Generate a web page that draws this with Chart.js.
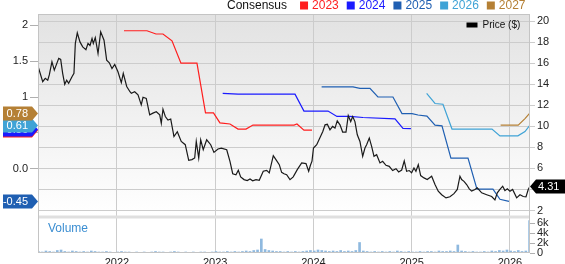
<!DOCTYPE html>
<html>
<head>
<meta charset="utf-8">
<script src="https://cdn.jsdelivr.net/npm/chart.js@4.4.1/dist/chart.umd.min.js"></script>
<style>
  html, body { margin: 0; padding: 0; background: #fff; }
</style>
</head>
<body>
<canvas id="chart" width="565" height="264"></canvas>
<script>
// Price history: [decimal year, price $]
const pricePoints = [
    [2021.196,15.74],[2021.244,14.25],[2021.270,14.57],[2021.295,14.40],[2021.311,14.90],[2021.338,16.15],
    [2021.362,15.35],[2021.407,16.47],[2021.427,16.37],[2021.447,15.05],[2021.468,14.00],[2021.488,14.40],
    [2021.508,14.10],[2021.542,14.73],[2021.562,15.05],[2021.576,17.90],[2021.596,18.90],[2021.623,18.04],
    [2021.651,17.57],[2021.684,17.30],[2021.705,17.90],[2021.725,17.70],[2021.746,18.36],[2021.759,17.90],
    [2021.779,18.45],[2021.807,16.94],[2021.834,19.00],[2021.868,18.20],[2021.895,16.30],[2021.922,16.05],
    [2021.949,15.50],[2021.977,15.90],[2022.010,15.20],[2022.044,14.16],[2022.064,15.05],[2022.099,13.80],
    [2022.132,13.30],[2022.146,13.15],[2022.180,13.30],[2022.214,13.00],[2022.247,12.05],[2022.265,12.77],
    [2022.298,12.67],[2022.333,11.10],[2022.366,11.26],[2022.400,11.40],[2022.435,11.10],[2022.451,10.30],
    [2022.468,11.63],[2022.492,10.94],[2022.519,10.60],[2022.547,10.70],[2022.580,9.04],[2022.614,9.50],
    [2022.654,8.57],[2022.695,8.26],[2022.730,6.77],[2022.763,6.84],[2022.791,7.00],[2022.807,8.57],
    [2022.832,7.00],[2022.852,8.73],[2022.878,7.78],[2022.913,8.73],[2022.954,8.26],[2022.987,7.53],
    [2023.028,7.85],[2023.062,7.94],[2023.117,7.78],[2023.150,6.68],[2023.178,5.50],[2023.211,5.39],
    [2023.235,5.82],[2023.259,5.20],[2023.293,4.94],[2023.326,4.85],[2023.354,5.00],[2023.381,4.82],
    [2023.415,4.94],[2023.448,4.87],[2023.489,5.73],[2023.524,5.82],[2023.550,5.58],[2023.591,7.22],
    [2023.618,6.84],[2023.652,6.36],[2023.676,5.63],[2023.700,5.50],[2023.727,5.40],[2023.761,4.94],
    [2023.794,5.20],[2023.835,5.89],[2023.880,6.52],[2023.924,6.46],[2023.951,5.73],[2023.969,6.30],
    [2023.985,6.70],[2024.000,7.94],[2024.033,8.26],[2024.095,9.52],[2024.118,10.15],[2024.141,10.20],
    [2024.168,9.68],[2024.195,10.00],[2024.219,9.84],[2024.242,10.53],[2024.270,10.15],[2024.297,9.46],
    [2024.331,9.46],[2024.354,11.03],[2024.379,10.46],[2024.399,10.94],[2024.422,10.46],[2024.446,9.20],
    [2024.473,8.57],[2024.501,7.15],[2024.524,7.94],[2024.541,8.26],[2024.568,8.89],[2024.592,8.10],
    [2024.616,7.15],[2024.643,7.31],[2024.677,6.52],[2024.704,6.68],[2024.738,6.30],[2024.771,6.20],
    [2024.806,5.80],[2024.840,5.98],[2024.867,5.67],[2024.898,5.85],[2024.924,6.72],[2024.948,5.73],
    [2024.975,5.80],[2024.999,5.58],[2025.023,6.05],[2025.043,5.73],[2025.067,6.36],[2025.091,5.32],
    [2025.125,5.10],[2025.158,4.94],[2025.203,5.26],[2025.237,4.47],[2025.270,3.84],[2025.305,3.50],
    [2025.349,3.20],[2025.389,3.30],[2025.430,3.60],[2025.464,4.00],[2025.491,5.26],[2025.508,4.94],
    [2025.532,4.77],[2025.559,4.47],[2025.586,4.06],[2025.610,3.84],[2025.644,4.00],[2025.667,4.16],
    [2025.712,3.68],[2025.763,3.50],[2025.814,3.33],[2025.847,3.00],[2025.871,3.68],[2025.898,4.00],
    [2025.926,4.31],[2025.949,3.89],[2025.973,4.06],[2026.000,3.84],[2026.027,4.00],[2026.068,3.20],
    [2026.102,3.50],[2026.135,3.33],[2026.163,3.30],[2026.186,4.00],[2026.204,4.31]
];

// EPS consensus per fiscal year: [decimal year, EPS]
const eps2023 = [
    [2022.071,1.92],[2022.305,1.92],[2022.397,1.875],[2022.468,1.875],[2022.560,1.78],[2022.651,1.47],
    [2022.814,1.47],[2022.901,0.78],[2022.982,0.78],[2023.048,0.64],[2023.150,0.625],[2023.232,0.555],
    [2023.313,0.555],[2023.384,0.61],[2023.802,0.61],[2023.832,0.625],[2023.903,0.54],[2023.985,0.54]
];
const eps2024 = [
    [2023.076,1.05],[2023.232,1.04],[2023.812,1.04],[2023.903,0.805],[2024.148,0.805],[2024.239,0.73],
    [2024.372,0.73],[2024.504,0.715],[2024.830,0.695],[2024.911,0.565],[2024.992,0.56]
];
const eps2025 = [
    [2024.083,1.14],[2024.402,1.14],[2024.473,1.12],[2024.575,1.12],[2024.656,1.00],[2024.809,1.00],
    [2024.901,0.77],[2025.003,0.77],[2025.064,0.75],[2025.155,0.735],[2025.237,0.61],[2025.308,0.60],
    [2025.399,0.15],[2025.573,0.15],[2025.664,-0.28],[2025.827,-0.28],[2025.898,-0.42],[2025.990,-0.45]
];
const eps2026 = [
    [2025.152,1.05],[2025.237,0.91],[2025.318,0.90],[2025.410,0.555],[2025.817,0.555],[2025.898,0.46],
    [2026.081,0.46],[2026.153,0.52],[2026.204,0.61]
];
const eps2027 = [[2025.905,0.61],[2026.084,0.61],[2026.153,0.70],[2026.204,0.78]];

const consensusYears = ["2023", "2024", "2025", "2026", "2027"];
const consensusSeries = [eps2023, eps2024, eps2025, eps2026, eps2027];

// Volume (thousands), one bar every two weeks from volStart
const volStart = 2021.2;
const volumeK = [
    0.3,0.2,0.4,0.3,0.2,0.5,0.6,0.3,0.2,0.4,0.3,0.2,0.3,
    0.2,0.4,0.3,0.2,0.2,0.3,0.2,0.1,0.2,0.3,0.2,0.2,0.1,
    0.2,0.1,0.2,0.1,0.2,0.3,0.2,0.2,0.1,0.2,0.3,0.2,0.1,
    0.2,0.1,0.2,0.1,0.2,0.2,0.1,0.2,0.3,0.2,0.2,0.3,0.2,
    0.3,0.2,0.3,0.4,0.3,0.5,0.6,2.8,0.7,0.5,0.4,0.3,0.3,
    0.2,0.3,0.2,0.3,0.2,0.3,0.4,0.5,0.4,0.6,0.5,0.4,0.3,
    0.4,0.3,0.5,0.3,0.4,0.3,0.5,2.1,0.4,0.3,0.2,0.3,0.2,
    0.3,0.2,0.3,0.2,0.4,0.3,0.2,0.3,0.2,0.2,0.3,0.2,0.3,
    0.3,0.2,0.4,0.3,0.3,0.4,0.3,1.6,0.4,0.3,0.2,0.3,0.2,
    0.2,0.3,0.2,0.4,0.3,0.5,0.4,0.6,0.4,0.3,0.5,0.3,0.4,
    6.5
];

// Axis ticks
const yearTicks = [2022, 2023, 2024, 2025, 2026];
const priceTicks = [2, 4, 6, 8, 10, 12, 14, 16, 18, 20];
const epsTicks = [0, 0.5, 1, 1.5, 2];
const volumeTicks = [0, 2, 4, 6];

// Styling
const FONT = "'Liberation Sans', Arial, sans-serif";
const yearColors = { "2023": "#ff1e1e", "2024": "#1a1aff", "2025": "#1f5fb2", "2026": "#3fa3d6", "2027": "#b58035" };

Chart.defaults.font.family = FONT;
Chart.defaults.color = "#222";

const toXY = pts => pts.map(p => ({ x: p[0], y: p[1] }));

const datasets = [{
    label: "Price ($)",
    data: toXY(pricePoints),
    yAxisID: "y",
    borderColor: "#1a1a1a",
    borderWidth: 1.2
}];
consensusYears.forEach((yr, i) => {
    datasets.push({
        label: yr,
        data: toXY(consensusSeries[i]),
        yAxisID: "yL",
        borderColor: yearColors[yr],
        borderWidth: 1.2
    });
});
datasets.push({
    type: "bar",
    label: "Volume",
    data: volumeK.map((v, i) => ({ x: volStart + i / 26, y: v })),
    yAxisID: "yV",
    backgroundColor: "#8fb9df",
    barThickness: 2
});

function setTicks(list) {
    return scale => { scale.ticks = list.map(v => ({ value: v })); };
}

// Legend, tags, panel frame
const decor = {
    id: "decor",
    beforeDraw(chart) {
        const { ctx, chartArea: a, scales } = chart;
        const p = scales.y;
        ctx.save();
        const g = ctx.createLinearGradient(0, p.top, 0, p.bottom);
        g.addColorStop(0, "#e2e2e2");
        g.addColorStop(1, "#ffffff");
        ctx.fillStyle = g;
        ctx.fillRect(a.left, p.top, a.right - a.left, p.bottom - p.top);
        ctx.restore();
    },
    afterDraw(chart) {
        const { ctx, chartArea: a, scales } = chart;
        const p = scales.y, e = scales.yL;
        ctx.save();

        // panel separator and frame
        ctx.fillStyle = "#dfdfdf";
        ctx.fillRect(a.left, p.bottom - 1.5, a.right - a.left, 3);
        ctx.strokeStyle = "#c4c4c4";
        ctx.lineWidth = 1;
        ctx.strokeRect(a.left + 0.5, a.top + 0.5, a.right - a.left - 1, a.bottom - a.top - 1);

        ctx.fillStyle = "#3b8ed2";
        ctx.font = "12px " + FONT;
        ctx.textBaseline = "middle";
        ctx.textAlign = "left";
        ctx.fillText("Volume", 48, 229);

        // top legend
        let x = 227;
        ctx.fillStyle = "#111";
        ctx.fillText("Consensus", x, 6);
        x += ctx.measureText("Consensus").width + 13;
        consensusYears.forEach(yr => {
            ctx.fillStyle = yearColors[yr];
            ctx.fillRect(x, 1.5, 8, 8);
            x += 12;
            ctx.fillText(yr, x, 6);
            x += ctx.measureText(yr).width + 8;
        });

        // price legend
        ctx.fillStyle = "#000";
        ctx.fillRect(466.5, 22.5, 11, 5);
        ctx.font = "10px " + FONT;
        ctx.fillStyle = "#111";
        ctx.fillText("Price ($)", 482.5, 25.5);

        // EPS tags on the left
        ctx.font = "11px " + FONT;
        ctx.textAlign = "right";
        consensusYears.forEach((yr, i) => {
            const s = consensusSeries[i];
            const v = s[s.length - 1][1];
            const y = Math.round(e.getPixelForValue(v)) + 0.5;
            ctx.fillStyle = yearColors[yr];
            ctx.beginPath();
            ctx.moveTo(3, y - 7);
            ctx.lineTo(32, y - 7);
            ctx.lineTo(38, y);
            ctx.lineTo(32, y + 7);
            ctx.lineTo(3, y + 7);
            ctx.closePath();
            ctx.fill();
            ctx.fillStyle = "#fff";
            ctx.fillText(v.toFixed(2), 28, y + 0.5);
        });

        // last price tag on the right
        const last = pricePoints[pricePoints.length - 1][1];
        const py = Math.round(p.getPixelForValue(last)) + 0.5;
        ctx.fillStyle = "#000";
        ctx.beginPath();
        ctx.moveTo(a.right, py);
        ctx.lineTo(a.right + 6, py - 7);
        ctx.lineTo(565, py - 7);
        ctx.lineTo(565, py + 7);
        ctx.lineTo(a.right + 6, py + 7);
        ctx.closePath();
        ctx.fill();
        ctx.fillStyle = "#fff";
        ctx.textAlign = "left";
        ctx.fillText(last.toFixed(2), 538, py + 0.5);
        ctx.restore();
    }
};

new Chart(document.getElementById("chart"), {
    type: "line",
    data: { datasets },
    options: {
        responsive: false,
        animation: false,
        devicePixelRatio: 1,
        layout: { padding: { top: 14 } },
        plugins: { legend: { display: false }, tooltip: { enabled: false } },
        elements: { point: { radius: 0 }, line: { tension: 0 } },
        scales: {
            x: {
                type: "linear", min: 2021.196, max: 2026.204, offset: false,
                afterBuildTicks: setTicks(yearTicks),
                afterFit: s => { s.height = 11; },
                grid: { color: "#cccccc", tickLength: 0, offset: false },
                border: { display: false },
                ticks: { padding: 3, autoSkip: false, maxRotation: 0, font: { size: 11 }, callback: v => String(v) }
            },
            yL: {
                type: "linear", position: "left", min: -1.167, max: 2.153,
                afterBuildTicks: setTicks(epsTicks),
                afterFit: s => { s.width = 38; },
                grid: { drawOnChartArea: false, tickLength: 8, color: "#b0b0b0" },
                border: { display: false },
                ticks: { padding: 2, autoSkip: false, font: { size: 11 }, callback: v => v === 0 ? "0.0" : String(v) }
            },
            y: {
                type: "linear", position: "right", stack: "right", stackWeight: 203,
                min: 1.38, max: 20.695,
                afterBuildTicks: setTicks(priceTicks),
                afterFit: s => { s.width = 35; },
                grid: { color: "#cccccc", tickLength: 5 },
                border: { display: false },
                ticks: { padding: 2, autoSkip: false, font: { size: 11 } }
            },
            yV: {
                type: "linear", position: "right", stack: "right", stackWeight: 36,
                min: 0, max: 7.2,
                afterBuildTicks: setTicks(volumeTicks),
                afterFit: s => { s.width = 35; },
                grid: { drawOnChartArea: false, color: "#b0b0b0", tickLength: 5 },
                border: { display: false },
                ticks: { padding: 2, autoSkip: false, font: { size: 11 }, callback: v => v === 0 ? "0" : v + "k" }
            }
        }
    },
    plugins: [decor]
});
</script>
</body>
</html>
